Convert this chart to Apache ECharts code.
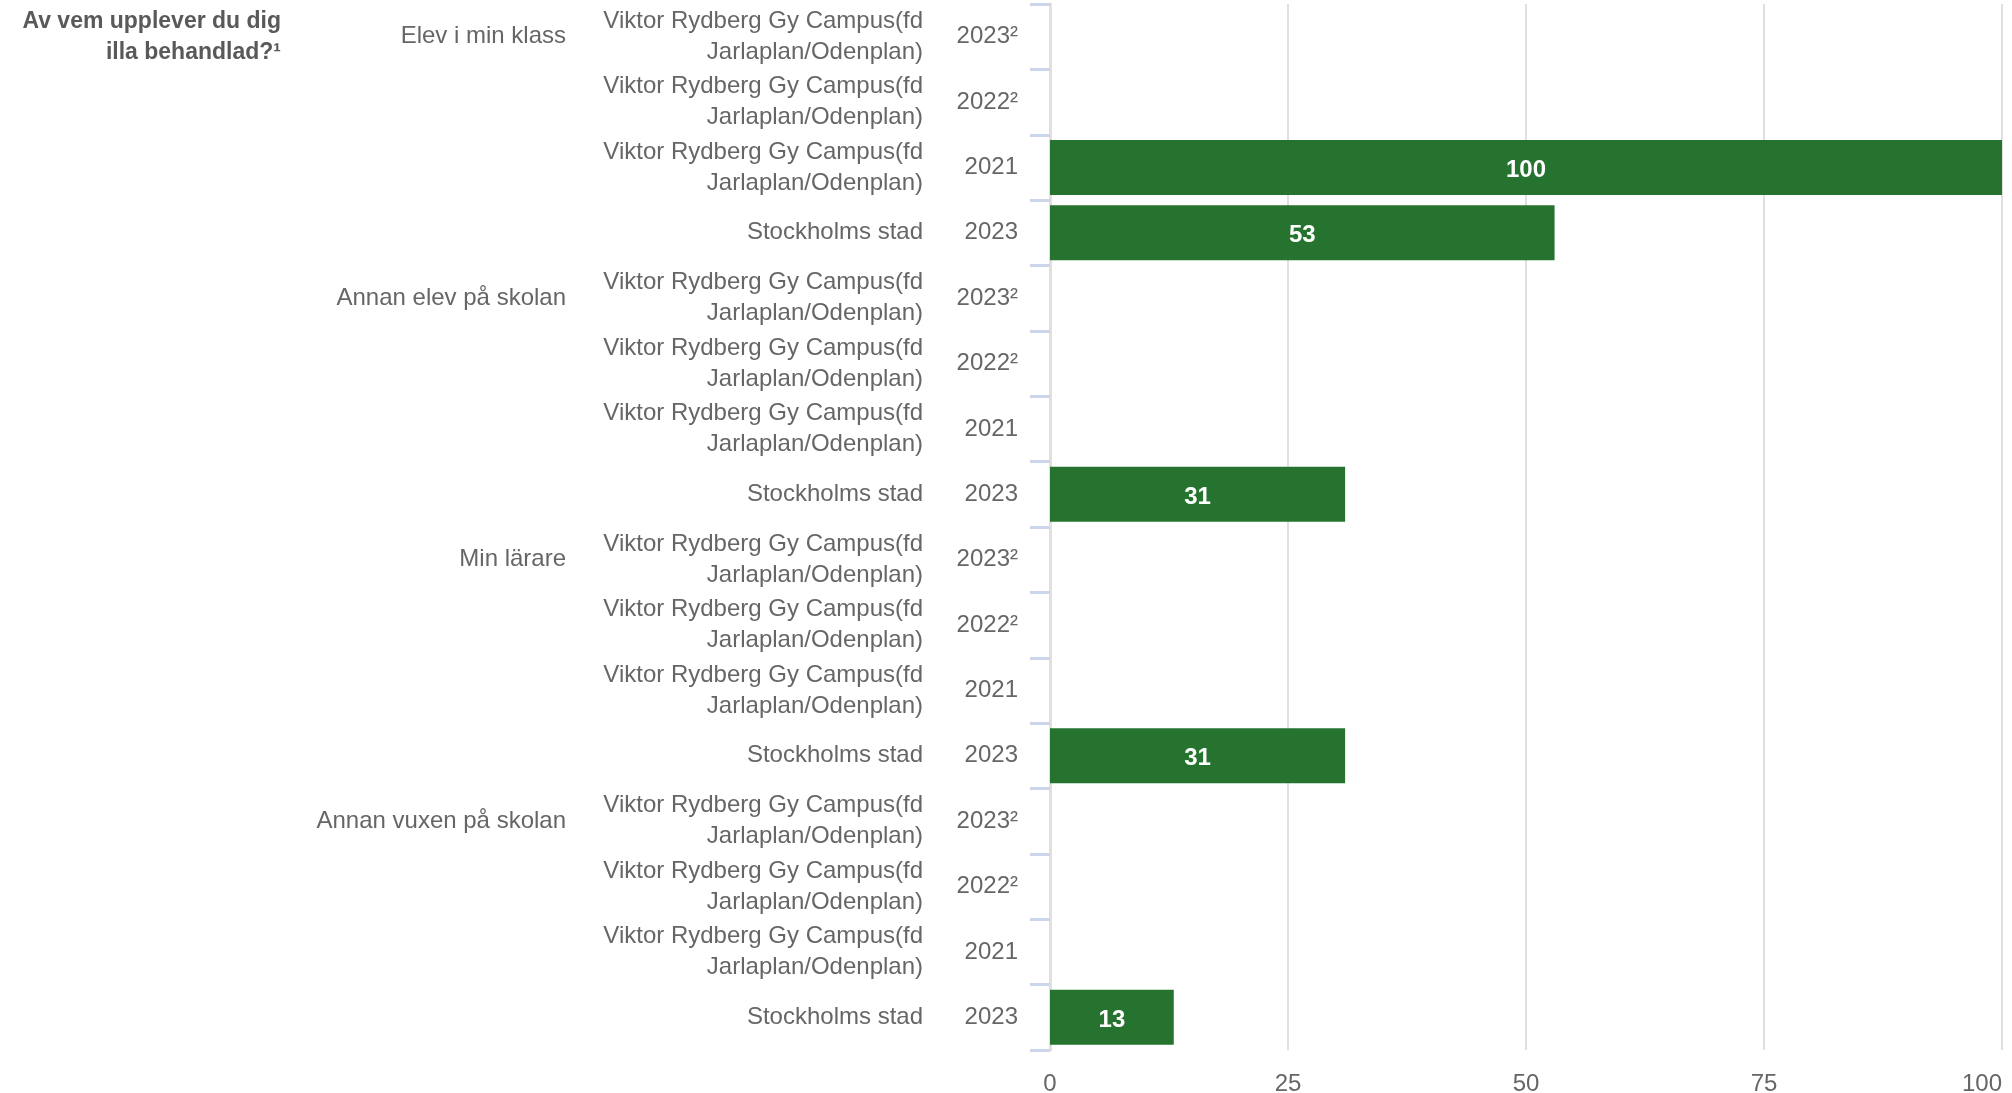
<!DOCTYPE html>
<html>
<head>
<meta charset="utf-8">
<script src="https://cdn.jsdelivr.net/npm/echarts@6/dist/echarts.min.js"></script>
<style>
  html, body { margin: 0; padding: 0; background: #fff; }
  #chart { width: 2012px; height: 1093px; }
</style>
</head>
<body>
<div id="chart"></div>
<script>
const question = 'Av vem upplever du dig\nilla behandlad?¹';

const groups = ['Elev i min klass', '', '', '',
  'Annan elev på skolan', '', '', '',
  'Min lärare', '', '', '',
  'Annan vuxen på skolan', '', '', ''];

const school = 'Viktor Rydberg Gy Campus(fd\nJarlaplan/Odenplan)';
const units = [school, school, school, 'Stockholms stad',
  school, school, school, 'Stockholms stad',
  school, school, school, 'Stockholms stad',
  school, school, school, 'Stockholms stad'];

const years = ['2023²', '2022²', '2021', '2023',
  '2023²', '2022²', '2021', '2023',
  '2023²', '2022²', '2021', '2023',
  '2023²', '2022²', '2021', '2023'];

const values = [null, null, 100, 53,
  null, null, null, 31,
  null, null, null, 31,
  null, null, null, 13];

const xTicks = [0, 25, 50, 75, 100];

const categories = years.map((y, i) => i + '');

const labelFont = {
  fontFamily: 'Liberation Sans, Arial, sans-serif',
  fontSize: 24,
  color: '#666666'
};

const chart = echarts.init(document.getElementById('chart'));

// stacked category axes on the same grid, each one draws one label column
const labelAxis = (names, margin, extra) => ({
  type: 'category',
  position: 'left',
  offset: 0,
  inverse: true,
  data: categories,
  axisLine: { show: false },
  axisTick: { show: false },
  splitLine: { show: false },
  axisLabel: Object.assign({
    margin: margin,
    interval: 0,
    align: 'right',
    lineHeight: 31,
    padding: [4, 0, 0, 0],
    formatter: (v) => names[+v]
  }, labelFont, extra || {})
});

const option = {
  animation: false,
  grid: {
    left: 1050,
    right: 10,
    top: 4,
    bottom: 43,
    containLabel: false,
    outerBoundsMode: 'none'
  },
  xAxis: {
    type: 'value',
    min: xTicks[0],
    max: xTicks[xTicks.length - 1],
    interval: 25,
    axisLine: { show: false },
    axisTick: { show: false },
    axisLabel: Object.assign({ margin: 22, alignMaxLabel: 'right' }, labelFont),
    splitLine: {
      show: true,
      lineStyle: { color: '#e0e0e0', width: 2 }
    }
  },
  yAxis: [
    {
      type: 'category',
      position: 'left',
      inverse: true,
      data: categories,
      axisLine: { show: true, lineStyle: { color: '#e0e0e0', width: 3 } },
      axisTick: {
        show: true,
        length: 20,
        lineStyle: { color: '#ccd6eb', width: 3 }
      },
      axisLabel: Object.assign({
        margin: 32,
        interval: 0,
        align: 'right',
        padding: [4, 0, 0, 0],
        formatter: (v) => years[+v]
      }, labelFont)
    },
    labelAxis(units, 127),
    labelAxis(groups, 484),
    labelAxis(groups.map((g, i) => i === 0 ? question : ''), 769, {
      fontWeight: 'bold',
      fontSize: 23,
      color: '#595959',
      padding: [2, 0, 0, 0]
    })
  ],
  series: [
    {
      type: 'bar',
      yAxisIndex: 0,
      data: values,
      barCategoryGap: '16%',
      itemStyle: { color: '#267330' },
      label: {
        show: true,
        position: 'inside',
        offset: [0, 3],
        color: '#ffffff',
        fontFamily: 'Liberation Sans, Arial, sans-serif',
        fontSize: 24,
        fontWeight: 'bold'
      }
    }
  ]
};

chart.setOption(option);
</script>
</body>
</html>
